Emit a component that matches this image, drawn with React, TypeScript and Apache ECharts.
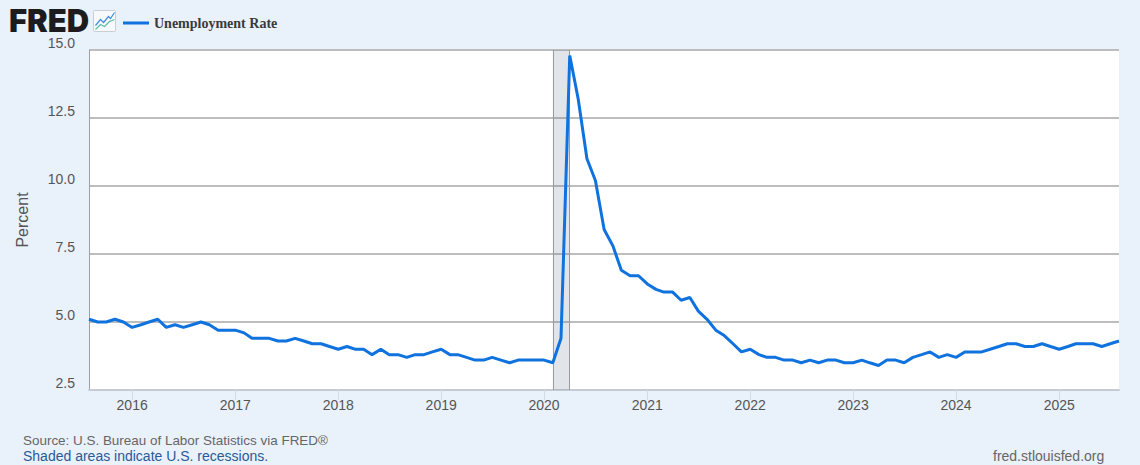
import React, { useEffect, useRef } from "react";
import * as echarts from "echarts";

const seriesName = "Unemployment Rate";
const values2015 = [5.1, 5.0, 5.0, 5.1, 5.0];
const values2016 = [4.8, 4.9, 5.0, 5.1, 4.8, 4.9, 4.8, 4.9, 5.0, 4.9, 4.7, 4.7];
const values2017 = [4.7, 4.6, 4.4, 4.4, 4.4, 4.3, 4.3, 4.4, 4.3, 4.2, 4.2, 4.1];
const values2018 = [4.0, 4.1, 4.0, 4.0, 3.8, 4.0, 3.8, 3.8, 3.7, 3.8, 3.8, 3.9];
const values2019 = [4.0, 3.8, 3.8, 3.7, 3.6, 3.6, 3.7, 3.6, 3.5, 3.6, 3.6, 3.6];
const values2020 = [3.6, 3.5, 4.4, 14.8, 13.2, 11.0, 10.2, 8.4, 7.8, 6.9, 6.7, 6.7];
const values2021 = [6.4, 6.2, 6.1, 6.1, 5.8, 5.9, 5.4, 5.1, 4.7, 4.5, 4.2, 3.9];
const values2022 = [4.0, 3.8, 3.7, 3.7, 3.6, 3.6, 3.5, 3.6, 3.5, 3.6, 3.6, 3.5];
const values2023 = [3.5, 3.6, 3.5, 3.4, 3.6, 3.6, 3.5, 3.7, 3.8, 3.9, 3.7, 3.8];
const values2024 = [3.7, 3.9, 3.9, 3.9, 4.0, 4.1, 4.2, 4.2, 4.1, 4.1, 4.2, 4.1];
const values2025 = [4.0, 4.1, 4.2, 4.2, 4.2, 4.1, 4.2, 4.3];

const rates = [
  ...values2015, ...values2016, ...values2017, ...values2018, ...values2019, ...values2020,
  ...values2021, ...values2022, ...values2023, ...values2024, ...values2025,
];
const startYear = 2015;
const startMonth = 7; // August, zero-based
const points = rates.map((v, i) => [Date.UTC(startYear, startMonth + i, 1), v]);
const yearTicks = [2016, 2017, 2018, 2019, 2020, 2021, 2022, 2023, 2024, 2025];
const tickValues = yearTicks.map((y) => Date.UTC(y, 0, 1));
const recessionStart = Date.UTC(2020, 1, 1);
const recessionEnd = Date.UTC(2020, 3, 1);
const xMin = Date.UTC(2015, 7, 1);
const xMax = Date.UTC(2025, 7, 1);

const sans = '"Liberation Sans", Arial, sans-serif';
const bg = "#e9f1fa";
const lineColor = "#0f72de";

export default function App() {
  const ref = useRef<HTMLDivElement>(null);
  useEffect(() => {
    document.body.style.margin = "0";
    document.body.style.background = bg;
    const chart = echarts.init(ref.current!, null, { renderer: "svg" });
    chart.setOption({
      animation: false,
      backgroundColor: bg,
      grid: { left: 89, right: 21, top: 50, bottom: 75, show: true, backgroundColor: "#fff", borderWidth: 0 },
      legend: {
        left: 118,
        top: 11,
        itemWidth: 26,
        itemHeight: 3,
        icon: "rect",
        data: [seriesName],
        textStyle: { fontFamily: '"Liberation Serif", "Times New Roman", serif', fontWeight: "bold", fontSize: 14, color: "#3a3a3a" },
      },
      xAxis: {
        type: "value",
        min: xMin,
        max: xMax,
        splitLine: { show: false },
        axisLine: { show: true, lineStyle: { color: "#c6ccd3", width: 2 } },
        axisTick: { show: true, length: 10, customValues: tickValues, lineStyle: { color: "#d3dbe6", width: 1 } },
        axisLabel: {
          customValues: tickValues,
          margin: 8,
          fontFamily: sans,
          fontSize: 14,
          color: "#555",
          formatter: (v: number) => String(new Date(v).getUTCFullYear()),
        },
      },
      yAxis: {
        type: "value",
        min: 2.5,
        max: 15,
        interval: 2.5,
        name: "Percent",
        nameLocation: "middle",
        nameGap: 59,
        nameTextStyle: { fontFamily: sans, fontSize: 16, color: "#555" },
        axisLine: { show: true, lineStyle: { color: "#a0a0a0", width: 1 } },
        axisTick: { show: false },
        splitLine: { show: true, lineStyle: { color: "#bdbdbd", width: 2 } },
        axisLabel: {
          margin: 14,
          verticalAlign: "bottom",
          fontFamily: sans,
          fontSize: 14,
          color: "#555",
          formatter: (v: number) => v.toFixed(1),
        },
      },
      series: [
        {
          name: seriesName,
          type: "line",
          data: points,
          showSymbol: false,
          symbol: "none",
          lineStyle: { color: lineColor, width: 3 },
          itemStyle: { color: lineColor },
          markArea: {
            silent: true,
            itemStyle: { color: "rgba(90,110,135,0.18)", borderWidth: 0 },
            data: [[{ xAxis: recessionStart }, { xAxis: recessionEnd }]],
          },
          markLine: {
            silent: true,
            symbol: "none",
            label: { show: false },
            lineStyle: { color: "#9a9a9a", width: 1, type: "solid" },
            data: [{ xAxis: recessionStart }, { xAxis: recessionEnd }],
          },
          z: 5,
        },
      ],
      graphic: [
        {
          type: "text",
          left: 9,
          top: 5,
          style: { text: "FRED", fontFamily: "Inter, sans-serif", fontWeight: 900, fontSize: 31, fill: "#1c1c1e" },
        },
        {
          type: "group",
          left: 93,
          top: 10,
          children: [
            { type: "rect", shape: { x: 0, y: 0, width: 22, height: 21, r: 1 }, style: { fill: "#f7f9fb", stroke: "#c9ced3", lineWidth: 1 } },
            { type: "polyline", shape: { points: [[2, 15], [7, 9], [10, 12], [15, 6], [17, 8], [21, 2]] }, style: { fill: "none", stroke: "#3f8fdc", lineWidth: 1.2 } },
            { type: "polyline", shape: { points: [[2, 19], [7, 14], [11, 16], [16, 11], [21, 9]] }, style: { fill: "none", stroke: "#5bbfa8", lineWidth: 1.2 } },
          ],
        },
        {
          type: "text",
          left: 23,
          top: 434,
          style: { text: "Source: U.S. Bureau of Labor Statistics via FRED®", fontFamily: sans, fontSize: 13.45, fill: "#666" },
        },
        {
          type: "text",
          left: 23,
          top: 449,
          style: { text: "Shaded areas indicate U.S. recessions.", fontFamily: sans, fontSize: 14, fill: "#2a5a96" },
        },
        {
          type: "text",
          left: 993,
          top: 449,
          style: { text: "fred.stlouisfed.org", fontFamily: sans, fontSize: 14, fill: "#666" },
        },
      ],
    });
    return () => chart.dispose();
  }, []);
  return <div ref={ref} style={{ width: 1140, height: 465 }} />;
}
